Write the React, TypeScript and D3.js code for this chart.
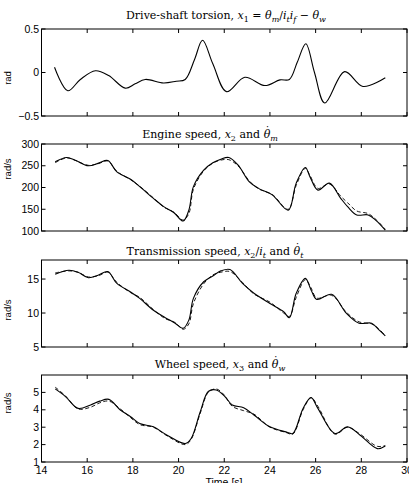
import React from "react";
import * as d3 from "d3";

// time axis
const timeTicks = [14, 16, 18, 20, 22, 24, 26, 28, 30];

// drive-shaft torsion [rad]
const torsionTime = [14.57, 15.15, 15.7, 16.36, 16.94, 17.67, 18.1, 18.54, 19.34, 19.9, 20.29, 20.7, 21.05, 21.5, 22.1, 22.9, 23.78, 24.44, 24.85, 25.2, 25.57, 25.95, 26.4, 27.27, 28.07, 29.05];
const torsionValues = [0.06, -0.21, -0.08, 0.02, -0.035, -0.18, -0.13, -0.08, -0.12, -0.1, -0.08, 0.15, 0.37, 0.1, -0.22, -0.055, -0.15, -0.085, -0.08, 0.12, 0.33, 0.0, -0.35, 0.01, -0.16, -0.06];
const torsionTicks = [-0.5, 0, 0.5];

// engine speed [rad/s]
const engineTime = [14.6, 15.1, 15.5, 16.05, 16.5, 16.9, 17.3, 17.9, 18.3, 18.9, 19.35, 19.8, 20.2, 20.45, 20.65, 21.1, 21.5, 21.85, 22.2, 22.6, 23.1, 23.5, 24.1, 24.8, 25.15, 25.55, 25.75, 26.1, 26.6, 27.1, 27.4, 27.8, 28.3, 28.65, 29.05];
const engineState = [259, 269, 262, 250, 256, 262, 236, 219, 202, 175, 156, 142, 123, 148, 202, 240, 257, 265, 269, 252, 213, 198, 183, 148, 210, 246, 225, 194, 210, 175, 156, 137, 137, 124, 102];
const engineMeasured = [257, 268, 262, 251, 255, 261, 237, 218, 203, 176, 155, 143, 125, 140, 196, 238, 256, 263, 264, 250, 215, 197, 184, 150, 205, 244, 228, 198, 208, 180, 165, 146, 140, 126, 104];
const engineTicks = [100, 150, 200, 250, 300];

// transmission speed [rad/s]
const transTime = [14.6, 15.2, 15.6, 16.05, 16.5, 16.9, 17.3, 17.9, 18.3, 18.9, 19.4, 19.85, 20.2, 20.45, 20.65, 21.1, 21.5, 21.85, 22.25, 22.8, 23.3, 24.0, 24.6, 24.85, 25.15, 25.55, 25.8, 26.05, 26.7, 27.35, 27.9, 28.45, 28.75, 29.05];
const transState = [15.7, 16.3, 16.0, 15.2, 15.6, 16.1, 14.35, 13.1, 12.15, 10.4, 9.35, 8.5, 7.75, 8.95, 12.15, 14.6, 15.45, 16.2, 16.4, 14.35, 12.9, 11.4, 10.2, 9.3, 12.9, 15.1, 13.4, 12.0, 12.75, 9.95, 8.5, 8.5, 7.6, 6.65];
const transMeasured = [15.9, 16.2, 16.0, 15.3, 15.5, 16.0, 14.5, 13.0, 12.3, 10.5, 9.2, 8.6, 7.6, 8.4, 11.4, 14.3, 15.6, 16.0, 16.1, 14.5, 12.8, 11.6, 10.0, 9.5, 12.3, 14.9, 13.7, 12.2, 12.6, 10.1, 8.7, 8.4, 7.7, 6.7];
const transTicks = [5, 10, 15];

// wheel speed [rad/s]
const wheelTime = [14.6, 15.05, 15.6, 16.15, 16.55, 16.95, 17.45, 17.9, 18.3, 18.9, 19.5, 20.3, 20.55, 20.95, 21.3, 21.65, 22.0, 22.35, 22.85, 23.3, 24.0, 24.7, 25.0, 25.45, 25.8, 26.1, 26.85, 27.4, 27.95, 28.7, 29.05];
const wheelState = [5.2, 4.76, 4.08, 4.28, 4.5, 4.6, 3.99, 3.6, 3.21, 3.02, 2.54, 2.06, 2.35, 3.89, 5.05, 5.14, 4.8, 4.28, 4.12, 3.7, 3.02, 2.73, 2.64, 4.08, 4.7, 4.08, 2.64, 3.02, 2.54, 1.77, 1.92];
const wheelMeasured = [5.3, 4.8, 4.05, 4.15, 4.4, 4.5, 4.05, 3.55, 3.15, 3.0, 2.5, 2.0, 2.3, 3.8, 5.0, 5.2, 4.85, 4.2, 3.95, 3.75, 3.0, 2.7, 2.6, 4.0, 4.7, 4.2, 2.6, 3.0, 2.6, 1.9, 1.95];
const wheelTicks = [1, 2, 3, 4, 5];

// d: dot drawn above the previous glyph
type Seg = { s: string; i?: boolean; sub?: boolean; d?: boolean };

const titles: Seg[][] = [
  [
    { s: "Drive-shaft torsion, " }, { s: "x", i: true }, { s: "1", sub: true }, { s: " = " },
    { s: "θ", i: true }, { s: "m", i: true, sub: true }, { s: "/" }, { s: "i", i: true }, { s: "t", i: true, sub: true },
    { s: "i", i: true }, { s: "f", i: true, sub: true }, { s: " − " }, { s: "θ", i: true }, { s: "w", i: true, sub: true },
  ],
  [{ s: "Engine speed, " }, { s: "x", i: true }, { s: "2", sub: true }, { s: " and " }, { s: "θ", i: true }, { s: "˙", d: true }, { s: "m", i: true, sub: true }],
  [
    { s: "Transmission speed, " }, { s: "x", i: true }, { s: "2", sub: true }, { s: "/" }, { s: "i", i: true },
    { s: "t", i: true, sub: true }, { s: " and " }, { s: "θ", i: true }, { s: "˙", d: true }, { s: "t", i: true, sub: true },
  ],
  [{ s: "Wheel speed, " }, { s: "x", i: true }, { s: "3", sub: true }, { s: " and " }, { s: "θ", i: true }, { s: "˙", d: true }, { s: "w", i: true, sub: true }],
];

const left = 41.5;
const right = 407;
const panelH = 87;
const tickLen = 4;

const x = d3.scaleLinear().domain([14, 30]).range([left, right]);

function Title({ segs, cx, y }: { segs: Seg[]; cx: number; y: number }) {
  let shift = 0; // current baseline offset
  const parts = segs.map((g, k) => {
    const target = g.sub ? 3 : g.d ? -3 : 0;
    const dy = target - shift;
    shift = target;
    return (
      <tspan
        key={k}
        dy={dy || undefined}
        dx={g.d ? -5.5 : undefined}
        fontStyle={g.i ? "italic" : undefined}
        fontSize={g.sub ? 8 : undefined}
      >
        {g.s}
      </tspan>
    );
  });
  return (
    <text x={cx} y={y} textAnchor="middle" fontFamily="DejaVu Serif" fontSize={11} style={{ whiteSpace: "pre" }}>
      {parts}
    </text>
  );
}

type Series = { t: number[]; v: number[]; dashed?: boolean };

function Panel(props: {
  top: number;
  domain: [number, number];
  ticks: number[];
  series: Series[];
  label: string;
  labelY: number;
  title: Seg[];
  titleX: number;
  titleY: number;
  xLabels?: boolean;
  fmt?: (d: number) => string;
}) {
  const { top, domain, ticks, series, label, labelY, title, titleX, titleY, xLabels, fmt } = props;
  const bottom = top + panelH;
  const y = d3.scaleLinear().domain(domain).range([bottom, top]);
  const f = fmt || ((d: number) => String(d));
  return (
    <g>
      <Title segs={title} cx={titleX} y={titleY} />
      {series.map((s, k) => {
        const gen = d3
          .line<number>()
          .x((_, i) => x(s.t[i]))
          .y((d) => y(d))
          .curve(d3.curveCatmullRom.alpha(0.5));
        return (
          <path
            key={k}
            d={gen(s.v) || ""}
            fill="none"
            stroke="#000"
            strokeWidth={s.dashed ? 0.9 : 1.1}
            strokeDasharray={s.dashed ? "4,2.5" : undefined}
          />
        );
      })}
      <rect x={left} y={top} width={right - left} height={panelH} fill="none" stroke="#000" strokeWidth={1} />
      {timeTicks.map((t) => (
        <g key={"x" + t}>
          <line x1={x(t)} x2={x(t)} y1={bottom} y2={bottom - tickLen} stroke="#000" />
          <line x1={x(t)} x2={x(t)} y1={top} y2={top + tickLen} stroke="#000" />
          {xLabels && (
            <text x={x(t)} y={bottom + 12} textAnchor="middle" fontFamily="Liberation Sans" fontSize={10.5}>
              {t}
            </text>
          )}
        </g>
      ))}
      {ticks.map((d) => (
        <g key={"y" + d}>
          <line x1={left} x2={left + tickLen} y1={y(d)} y2={y(d)} stroke="#000" />
          <line x1={right} x2={right - tickLen} y1={y(d)} y2={y(d)} stroke="#000" />
          <text x={left - 2.5} y={y(d)} dy="0.35em" textAnchor="end" fontFamily="Liberation Sans" fontSize={10.5}>
            {f(d)}
          </text>
        </g>
      ))}
      <text
        transform={`translate(8,${labelY}) rotate(-90)`}
        textAnchor="middle"
        dy="0.35em"
        fontFamily="Liberation Sans"
        fontSize={9.5}
      >
        {label}
      </text>
    </g>
  );
}

export default function App() {
  return (
    <svg
      width={409}
      height={483}
      style={{ position: "absolute", left: 0, top: 0, background: "#fff" }}
    >
      <rect width={409} height={483} fill="#fff" />
      <Panel
        top={29}
        domain={[-0.5, 0.5]}
        ticks={torsionTicks}
        series={[{ t: torsionTime, v: torsionValues }]}
        label="rad"
        labelY={78}
        title={titles[0]}
        titleX={226}
        titleY={19}
        fmt={(d) => (d < 0 ? "−" + Math.abs(d) : String(d))}
      />
      <Panel
        top={144}
        domain={[100, 300]}
        ticks={engineTicks}
        series={[
          { t: engineTime, v: engineMeasured, dashed: true },
          { t: engineTime, v: engineState },
        ]}
        label="rad/s"
        labelY={169}
        title={titles[1]}
        titleX={210}
        titleY={138}
      />
      <Panel
        top={260}
        domain={[5, 17.8]}
        ticks={transTicks}
        series={[
          { t: transTime, v: transMeasured, dashed: true },
          { t: transTime, v: transState },
        ]}
        label="rad/s"
        labelY={310}
        title={titles[2]}
        titleX={215}
        titleY={255}
      />
      <Panel
        top={375}
        domain={[1, 6]}
        ticks={wheelTicks}
        series={[
          { t: wheelTime, v: wheelMeasured, dashed: true },
          { t: wheelTime, v: wheelState },
        ]}
        label="rad/s"
        labelY={403}
        title={titles[3]}
        titleX={220}
        titleY={368}
        xLabels
      />
      <text x={224} y={486} textAnchor="middle" fontFamily="Liberation Sans" fontSize={10.5}>
        Time [s]
      </text>
    </svg>
  );
}
